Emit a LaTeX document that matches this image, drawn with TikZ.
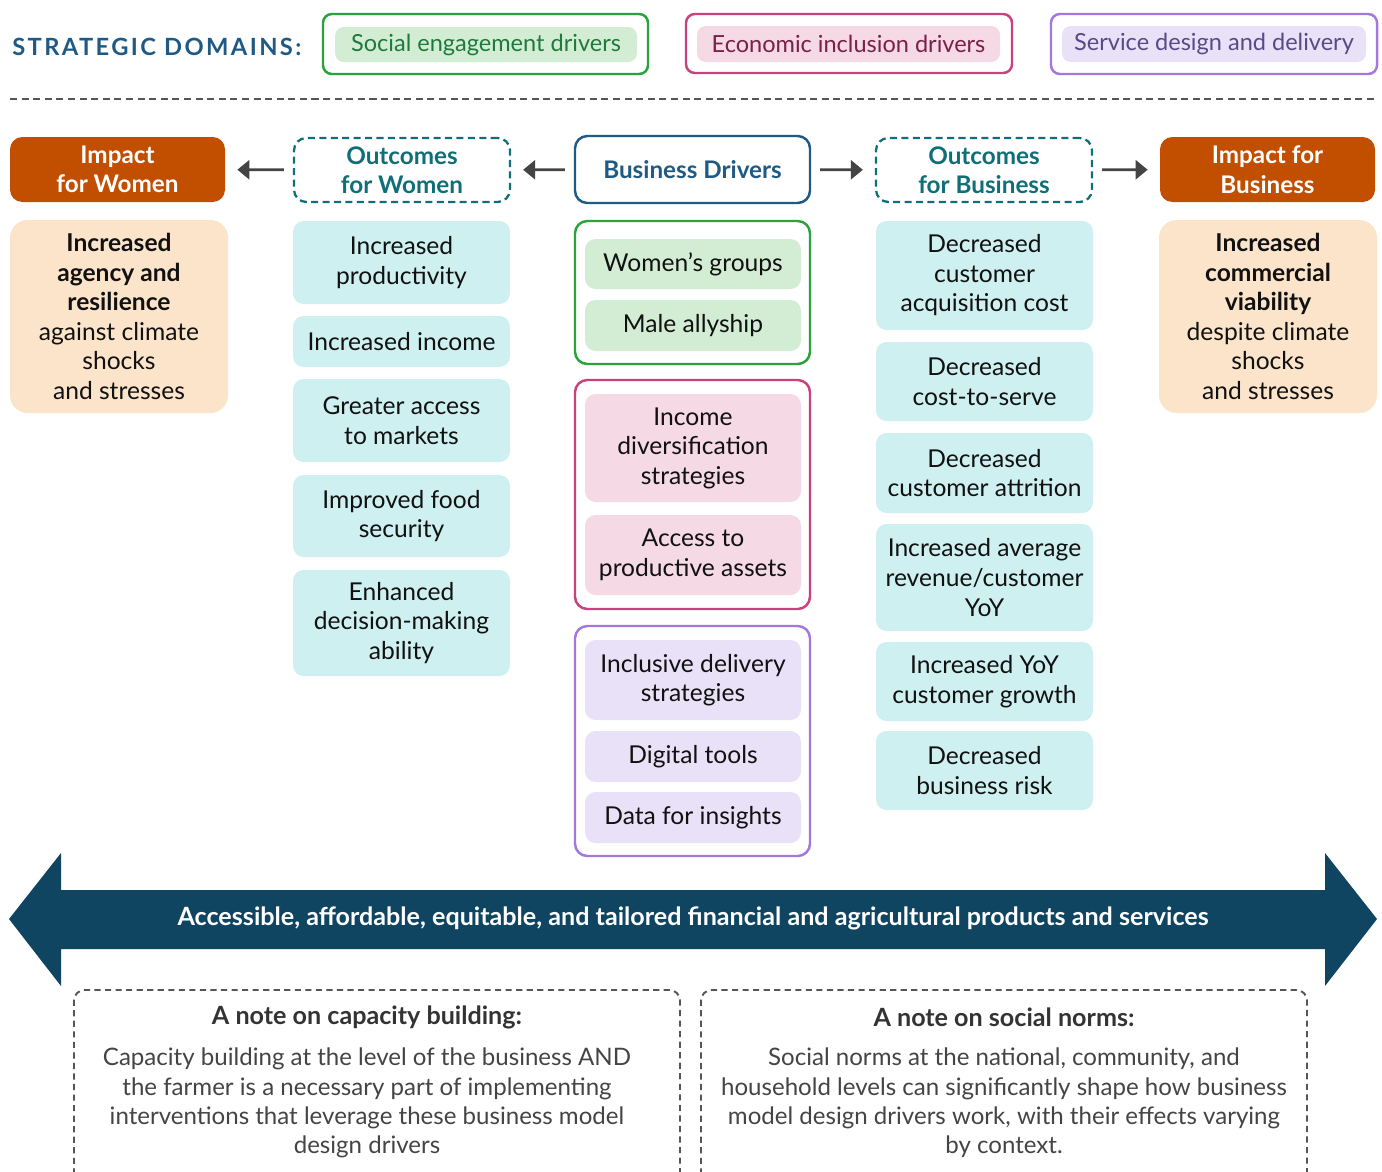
\documentclass[tikz,border=0pt]{standalone}
\usepackage{fontspec}
\setmainfont{Lato}
\usetikzlibrary{arrows.meta, positioning}

\definecolor{impdark}{RGB}{194,78,0}
\definecolor{implight}{RGB}{252,228,203}
\definecolor{outcyan}{RGB}{207,240,240}
\definecolor{tealtx}{RGB}{15,110,120}
\definecolor{bluetx}{RGB}{31,90,133}
\definecolor{grnln}{RGB}{41,163,58}
\definecolor{grnfill}{RGB}{211,237,212}
\definecolor{grntx}{RGB}{31,122,61}
\definecolor{pnkln}{RGB}{201,66,127}
\definecolor{pnkfill}{RGB}{245,217,229}
\definecolor{pnktx}{RGB}{123,32,73}
\definecolor{prpln}{RGB}{162,120,220}
\definecolor{prpfill}{RGB}{233,225,247}
\definecolor{prptx}{RGB}{87,75,134}
\definecolor{bandnavy}{RGB}{16,69,98}
\definecolor{arrgray}{RGB}{68,68,68}
\definecolor{dashgray}{RGB}{85,85,85}
\definecolor{notehd}{RGB}{51,51,51}
\definecolor{notebd}{RGB}{68,68,68}
\definecolor{bodytx}{RGB}{17,17,17}

\newcommand\txtsize{\fontsize{14}{16.8}\selectfont}
\newcommand\lgsize{\fontsize{13.4}{16}\selectfont}
\newcommand\hdsize{\fontsize{13.8}{16.8}\selectfont\bfseries}
\newcommand\bandsize{\fontsize{14.3}{16.8}\selectfont\bfseries}
\newcommand\notesize{\fontsize{13.7}{16.7}\selectfont}
\newcommand\notehdsize{\fontsize{14.3}{16.8}\selectfont\bfseries}
\newcommand\domsize{\fontsize{13.5}{16}\selectfont\bfseries\addfontfeature{LetterSpace=10}}

\begin{document}
\begin{tikzpicture}[x=0.02cm, y=-0.02cm,
  every node/.style={font=\txtsize, align=center, inner sep=0pt, text=bodytx},
  sz/.style 2 args={minimum width=#1*0.02cm, minimum height=#2*0.02cm},
  legendframe/.style={draw=#1, line width=1.4pt, rounded corners=5pt},
  legendchip/.style={fill=#1, rounded corners=5pt, font=\lgsize},
  hdbox/.style={rounded corners=7pt, font=\hdsize},
  impacthead/.style={hdbox, fill=impdark, text=white},
  outhead/.style={hdbox, draw=tealtx, text=tealtx, line width=1.3pt, dash pattern=on 4pt off 2.5pt},
  drvhead/.style={hdbox, draw=bluetx, text=bluetx, line width=1.4pt},
  impactbody/.style={fill=implight, rounded corners=10pt},
  outbox/.style={fill=outcyan, rounded corners=6pt},
  grpbox/.style={draw=#1, line width=1.4pt, rounded corners=7pt},
  drvbox/.style={fill=#1, rounded corners=6pt},
  hdarrow/.style={draw=arrgray, line width=1.5pt, -{Triangle[length=0.24cm, width=0.38cm]},
    shorten <=0.18cm, shorten >=0.24cm},
  notedash/.style={draw=dashgray, line width=1.1pt, dash pattern=on 3.5pt off 2.5pt, rounded corners=6pt}]
  \useasboundingbox (0,0) rectangle (1382,1171);

  % legend of the three domains
  \node[font=\domsize, text=bluetx, anchor=west] (dom) at (12,47) {STRATEGIC DOMAINS:};
  \node[legendframe=grnln, sz={325}{60}] (lgs) at (485.5,44) {};
  \node[legendchip=grnfill, text=grntx, sz={302}{35}] (lgsc) at (486,44.5) {Social engagement drivers};
  \node[legendframe=pnkln, sz={326}{59}] (lge) at (849,43.5) {};
  \node[legendchip=pnkfill, text=pnktx, sz={303}{36}] (lgec) at (848.5,44) {Economic inclusion drivers};
  \node[legendframe=prpln, sz={326}{60}] (lgd) at (1214,44) {};
  \node[legendchip=prpfill, text=prptx, sz={304}{36}] (lgdc) at (1214,44) {Service design and delivery};
  \draw[dashgray, line width=1.6pt, dash pattern=on 4pt off 2.6pt] (10,99) -- (1376,99);

  % column heads
  \node[impacthead, sz={215}{65}] (iw) at (117.5,169.5) {Impact\\for Women};
  \node[outhead, sz={216}{64}] (ow) at (402,170) {Outcomes\\for Women};
  \node[drvhead, sz={235}{67}] (bd) at (692.5,169.5) {Business Drivers};
  \node[outhead, sz={216}{64}] (ob) at (984,170) {Outcomes\\for Business};
  \node[impacthead, sz={215}{65}] (ib) at (1267.5,169.5) {Impact for\\Business};
  \draw[hdarrow] (bd) -- (ow);
  \draw[hdarrow] (ow) -- (iw);
  \draw[hdarrow] (bd) -- (ob);
  \draw[hdarrow] (ob) -- (ib);

  % impact for women
  \node[impactbody, sz={218}{193}] (iw1) at (119,316.5) {\textbf{Increased}\\\textbf{agency and}\\\textbf{resilience}\\against climate\\shocks\\and stresses};

  % outcomes for women
  \node[outbox, sz={217}{83}] (ow1) at (401.5,262.5) {Increased\\productivity};
  \node[outbox, sz={217}{51}] (ow2) at (401.5,341.5) {Increased income};
  \node[outbox, sz={217}{83}] (ow3) at (401.5,420.5) {Greater access\\to markets};
  \node[outbox, sz={217}{82}] (ow4) at (401.5,516) {Improved food\\security};
  \node[outbox, sz={217}{106}] (ow5) at (401.5,623) {Enhanced\\decision-making\\ability};

  % business drivers, grouped by domain
  \node[grpbox=grnln, sz={235}{143}] (gs) at (692.5,292.5) {};
  \node[drvbox=grnfill, sz={216}{50}] (bd1) at (693,264) {Women’s groups};
  \node[drvbox=grnfill, sz={216}{51}] (bd2) at (693,325.5) {Male allyship};
  \node[grpbox=pnkln, sz={235}{229}] (ge) at (692.5,494.5) {};
  \node[drvbox=pnkfill, sz={216}{108}] (bd3) at (693,448) {Income\\diversification\\strategies};
  \node[drvbox=pnkfill, sz={216}{80}] (bd4) at (693,555) {Access to\\productive assets};
  \node[grpbox=prpln, sz={235}{230}] (gd) at (692.5,741) {};
  \node[drvbox=prpfill, sz={216}{80}] (bd5) at (693,680) {Inclusive delivery\\strategies};
  \node[drvbox=prpfill, sz={216}{51}] (bd6) at (693,756.5) {Digital tools};
  \node[drvbox=prpfill, sz={216}{51}] (bd7) at (693,817.5) {Data for insights};

  % outcomes for business
  \node[outbox, sz={217}{109}] (ob1) at (984.5,275.5) {Decreased\\customer\\acquisition cost};
  \node[outbox, sz={217}{79}] (ob2) at (984.5,381.5) {Decreased\\cost-to-serve};
  \node[outbox, sz={217}{80}] (ob3) at (984.5,473) {Decreased\\customer attrition};
  \node[outbox, sz={217}{107}] (ob4) at (984.5,577.5) {Increased average\\revenue/customer\\YoY};
  \node[outbox, sz={217}{79}] (ob5) at (984.5,681.5) {Increased YoY\\customer growth};
  \node[outbox, sz={217}{79}] (ob6) at (984.5,770.5) {Decreased\\business risk};

  % impact for business
  \node[impactbody, sz={218}{193}] (ib1) at (1268,316.5) {\textbf{Increased}\\\textbf{commercial}\\\textbf{viability}\\despite climate\\shocks\\and stresses};

  % products and services band
  \fill[bandnavy] (9,919) -- (61,853) -- (61,890) -- (1325,890) -- (1325,853) -- (1377,919)
    -- (1325,986) -- (1325,949) -- (61,949) -- (61,986) -- cycle;
  \node[font=\bandsize, text=white] (band) at (693,918) {Accessible, affordable, equitable, and tailored financial and agricultural products and services};

  % notes
  \draw[notedash] (74,1185) -- (74,990) -- (680,990) -- (680,1185);
  \draw[notedash] (701,1185) -- (701,990) -- (1307,990) -- (1307,1185);
  \node[font=\notehdsize, text=notehd] (capt) at (367,1017) {A note on capacity building:};
  \node[font=\notesize, text=notebd] (capb) at (367,1103) {Capacity building at the level of the business AND\\the farmer is a necessary part of implementing\\interventions that leverage these business model\\design drivers};
  \node[font=\notehdsize, text=notehd] (normt) at (1004,1017) {A note on social norms:};
  \node[font=\notesize, text=notebd] (normb) at (1004,1103) {Social norms at the national, community, and\\household levels can significantly shape how business\\model design drivers work, with their effects varying\\by context.};
\end{tikzpicture}
\end{document}
